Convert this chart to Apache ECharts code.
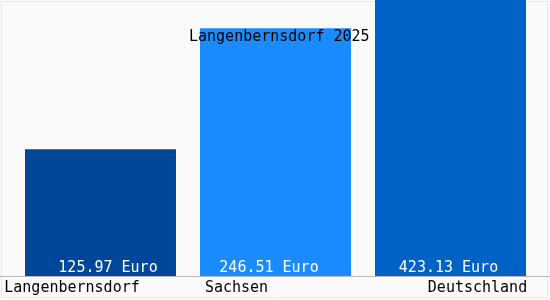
<!DOCTYPE html>
<html><head><meta charset="utf-8">
<script src="https://cdn.jsdelivr.net/npm/echarts@6/dist/echarts.min.js"></script>
<style>html,body{margin:0;padding:0;background:#fafafa}#c{width:550px;height:300px}</style>
</head><body><div id="c"></div>
<script>
var categories = ['Langenbernsdorf', 'Sachsen', 'Deutschland'];
var values = [125.97, 246.51, 423.13];
var unit = 'Euro';
var title = 'Langenbernsdorf 2025';
var barColors = ['#00479a', '#1a8cff', '#0062c4'];
var labelPads = [[0, 57, 0, 0], [0, 78, 0, 0], [0, 0, 0, 54]];
var valuePads = [[0, 0, 0, 15], [0, 13, 0, 0], [0, 4, 0, 0]];
var font = '"DejaVu Sans Mono", monospace';

var chart = echarts.init(document.getElementById('c'));
chart.setOption({
  backgroundColor: '#fafafa',
  animation: false,
  title: {text: title, left: 189, top: 30, padding: 0,
    textStyle: {fontFamily: font, fontSize: 15, fontWeight: 'normal', color: '#000'}},
  grid: {left: 13, right: 12, top: 0, bottom: 24},
  xAxis: {type: 'category',
    data: categories.map(function (c, i) { return {value: c, textStyle: {padding: labelPads[i]}}; }),
    axisLine: {show: false}, axisTick: {show: false},
    axisLabel: {interval: 0, margin: 5, fontFamily: font, fontSize: 15, color: '#000', verticalAlign: 'top'}},
  yAxis: {type: 'value', min: 0, max: 274.5, show: false, splitLine: {show: false}},
  series: [{type: 'bar', barWidth: 151, clip: true,
    data: values.map(function (v, i) { return {value: v, itemStyle: {color: barColors[i]}, label: {padding: valuePads[i]}}; }),
    label: {show: true, position: 'insideBottom', distance: 0, color: '#fff',
      fontFamily: font, fontSize: 15,
      formatter: function (p) { return p.value.toFixed(2) + ' ' + unit; }}}],
  graphic: [
    {type: 'rect', shape: {x: 1.5, y: 1.5, width: 546, height: 296}, style: {fill: null, stroke: '#e8e8e8', lineWidth: 1}, silent: true, z: -1},
    {type: 'line', shape: {x1: 0, y1: 276.5, x2: 550, y2: 276.5}, style: {stroke: '#b8b8b8', lineWidth: 1}, silent: true, z: 10}
  ]
});
</script></body></html>
